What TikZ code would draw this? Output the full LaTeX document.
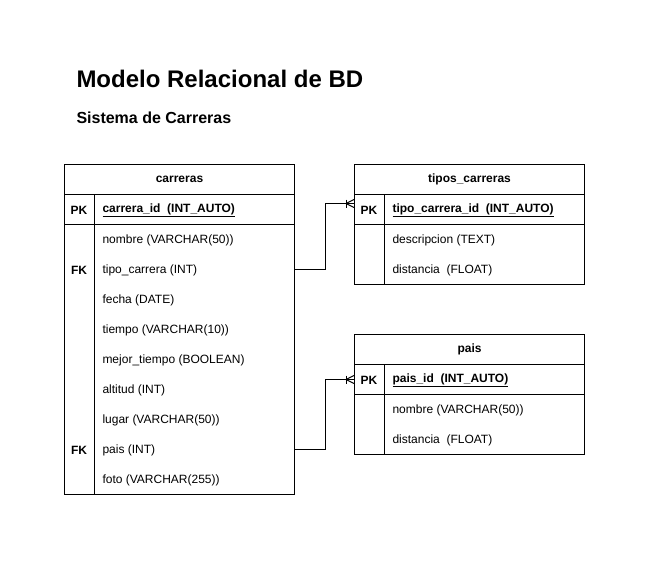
\documentclass[tikz,border=0pt]{standalone}
\usepackage{fontspec}
\setmainfont{Liberation Sans}
\begin{document}
\begin{tikzpicture}[x=1pt,y=-1pt,line width=1pt,
  box/.style={draw=black,minimum width=230pt,minimum height=30pt,inner sep=0pt,anchor=north west},
  area/.style={minimum width=230pt,minimum height=30pt,inner sep=0pt,anchor=north west},
  hdr/.style={font=\fontsize{12}{14}\selectfont\bfseries},
  fld/.style={font=\fontsize{12}{14}\selectfont,anchor=west,inner sep=0pt,yshift=-1pt},
  pkfld/.style={font=\fontsize{12}{14}\selectfont\bfseries,anchor=west,inner sep=0pt,yshift=-1pt},
  keyl/.style={font=\fontsize{12}{14}\selectfont\bfseries,inner sep=0pt,yshift=-1pt},
  conn/.style={draw=black,line width=1pt}]
\useasboundingbox (0,0) rectangle (650,560);
\fill[white] (0,0) rectangle (650,560);
% titles
\node[anchor=base west,inner sep=0pt,font=\fontsize{24}{28}\selectfont\bfseries] (title) at (76,87) {Modelo Relacional de BD};
\node[anchor=base west,inner sep=0pt,font=\fontsize{16}{19}\selectfont\bfseries] (subtitle) at (76,123.5) {Sistema de Carreras};
% carreras
\node[box,hdr] (c-h) at (64,164) {carreras};
\node[box] (c-pk) at (64,194) {};
\node[box,minimum height=270pt] (c-body) at (64,224) {};
\draw ([xshift=30pt]c-pk.north west) -- ([xshift=30pt]c-body.south west);
\node[keyl] (c-pkl) at (79,209) {PK};
\node[pkfld] (c-pkf) at (102,209) {\underline{carrera\_id\ \ (INT\_AUTO)}};
\node[fld] (c-f1) at (102,239) {nombre (VARCHAR(50))};
\node[fld] (c-f2) at (102,269) {tipo\_carrera (INT)};
\node[fld] (c-f3) at (102,299) {fecha (DATE)};
\node[fld] (c-f4) at (102,329) {tiempo (VARCHAR(10))};
\node[fld] (c-f5) at (102,359) {mejor\_tiempo (BOOLEAN)};
\node[fld] (c-f6) at (102,389) {altitud (INT)};
\node[fld] (c-f7) at (102,419) {lugar (VARCHAR(50))};
\node[fld] (c-f8) at (102,449) {pais (INT)};
\node[fld] (c-f9) at (102,479) {foto (VARCHAR(255))};
\node[keyl] (c-fk1) at (79,269) {FK};
\node[keyl] (c-fk2) at (79,449) {FK};
\node[area] (c-tipo) at (64,254) {};
\node[area] (c-pais) at (64,434) {};
% tipos_carreras
\node[box,hdr] (t-h) at (354,164) {tipos\_carreras};
\node[box] (t-pk) at (354,194) {};
\node[box,minimum height=60pt] (t-body) at (354,224) {};
\draw ([xshift=30pt]t-pk.north west) -- ([xshift=30pt]t-body.south west);
\node[keyl] (t-pkl) at (369,209) {PK};
\node[pkfld] (t-pkf) at (392,209) {\underline{tipo\_carrera\_id\ \ (INT\_AUTO)}};
\node[fld] (t-f1) at (392,239) {descripcion (TEXT)};
\node[fld] (t-f2) at (392,269) {distancia\ \ (FLOAT)};
% pais
\node[box,hdr] (p-h) at (354,334) {pais};
\node[box] (p-pk) at (354,364) {};
\node[box,minimum height=60pt] (p-body) at (354,394) {};
\draw ([xshift=30pt]p-pk.north west) -- ([xshift=30pt]p-body.south west);
\node[keyl] (p-pkl) at (369,379) {PK};
\node[pkfld] (p-pkf) at (392,379) {\underline{pais\_id\ \ (INT\_AUTO)}};
\node[fld] (p-f1) at (392,409) {nombre (VARCHAR(50))};
\node[fld] (p-f2) at (392,439) {distancia\ \ (FLOAT)};
% connectors
\coordinate (e1) at ([yshift=6pt]t-pk.west);
\coordinate (e2) at (p-pk.west);
\draw[conn] (c-tipo.east) -- ++(30,0) |- (e1);
\draw[conn] (c-pais.east) -- ++(30,0) |- (e2);
\foreach \e in {e1,e2}{
  \draw[conn] (\e) ++(-8,0) -- ++(8,-4);
  \draw[conn] (\e) ++(-8,0) -- ++(8,4);
  \draw[conn] (\e) ++(-8,-4) -- ++(0,8);
}
\end{tikzpicture}
\end{document}
